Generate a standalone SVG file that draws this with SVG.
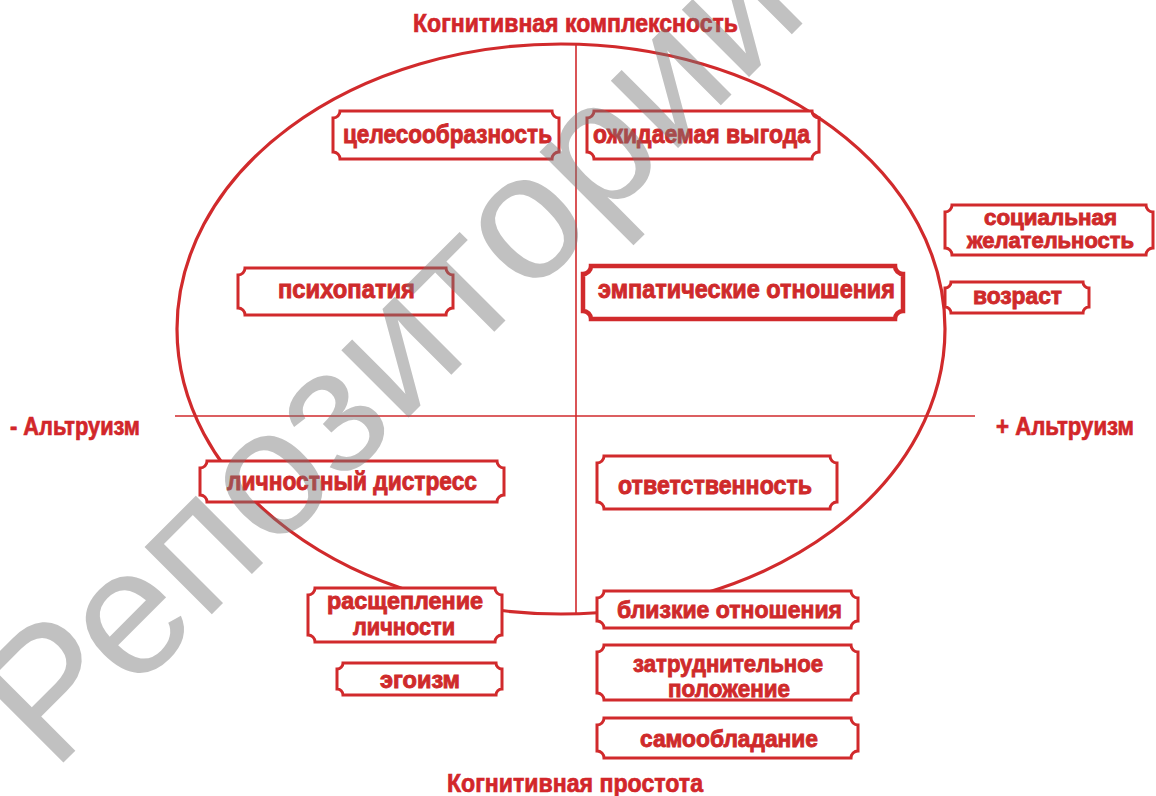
<svg xmlns="http://www.w3.org/2000/svg" width="1156" height="796" viewBox="0 0 1156 796">
<style>
.frame{fill:#fff;stroke:#d12a2c;stroke-width:3}
.thick{stroke-width:4.5}
.lbl{font-family:"Liberation Sans",Arial,sans-serif;font-weight:bold;font-size:26px;fill:#cf2a2b;stroke:#cf2a2b;stroke-width:0.9;text-anchor:middle}
.sm{font-size:24px}
.xs{font-size:22px}
.title{font-family:"Liberation Sans",Arial,sans-serif;font-weight:bold;font-size:25px;fill:#d2262a;stroke:#d2262a;stroke-width:0.7;text-anchor:middle}
.axis{stroke:#d12a2c;fill:none}
.wm{font-family:"Liberation Sans",Arial,sans-serif;font-size:180px;fill:#777;opacity:0.45}
</style>
<rect width="1156" height="796" fill="#fff"/>
<g id="connectors">
<ellipse class="axis" cx="561" cy="329" rx="384" ry="285" stroke-width="3.2"/>
<line class="axis" x1="576" y1="45" x2="576" y2="613" stroke-width="1.6"/>
<line class="axis" x1="175" y1="416" x2="975" y2="416" stroke-width="1.6"/>
</g>
<g id="titles">
<text class="title" x="575.5" y="32" textLength="325" lengthAdjust="spacingAndGlyphs">Когнитивная комплексность</text>
<text class="title" x="575" y="792" textLength="256" lengthAdjust="spacingAndGlyphs">Когнитивная простота</text>
<text class="title" x="75" y="435" textLength="130" lengthAdjust="spacingAndGlyphs">- Альтруизм</text>
<text class="title" x="1065" y="435" textLength="138" lengthAdjust="spacingAndGlyphs">+ Альтруизм</text>
</g>
<g id="n1"><path class="frame" d="M340,111 H552 A7,7 0 0 0 559,118 V152 A7,7 0 0 0 552,159 H340 A7,7 0 0 0 333,152 V118 A7,7 0 0 0 340,111 Z"/><text class="lbl" x="447.5" y="143" textLength="209" lengthAdjust="spacingAndGlyphs">целесообразность</text></g>
<g id="n2"><path class="frame" d="M594,111 H812 A7,7 0 0 0 819,118 V152 A7,7 0 0 0 812,159 H594 A7,7 0 0 0 587,152 V118 A7,7 0 0 0 594,111 Z"/><text class="lbl" x="701.5" y="143" textLength="217" lengthAdjust="spacingAndGlyphs">ожидаемая выгода</text></g>
<g id="n3"><path class="frame" d="M952,205 H1146 A7,7 0 0 0 1153,212 V248 A7,7 0 0 0 1146,255 H952 A7,7 0 0 0 945,248 V212 A7,7 0 0 0 952,205 Z"/><text class="lbl xs" x="1050.5" y="225" textLength="133" lengthAdjust="spacingAndGlyphs">социальная</text><text class="lbl xs" x="1050.5" y="248" textLength="167" lengthAdjust="spacingAndGlyphs">желательность</text></g>
<g id="n4"><path class="frame" d="M951,282 H1083 A6,6 0 0 0 1089,288 V307 A6,6 0 0 0 1083,313 H951 A6,6 0 0 0 945,307 V288 A6,6 0 0 0 951,282 Z"/><text class="lbl sm" x="1017.5" y="304" textLength="89" lengthAdjust="spacingAndGlyphs">возраст</text></g>
<g id="n5"><path class="frame" d="M245,268 H446 A7,7 0 0 0 453,275 V308 A7,7 0 0 0 446,315 H245 A7,7 0 0 0 238,308 V275 A7,7 0 0 0 245,268 Z"/><text class="lbl" x="346.5" y="298" textLength="137" lengthAdjust="spacingAndGlyphs">психопатия</text></g>
<g id="n6"><path class="frame thick" d="M591,266 H895 A8,8 0 0 0 903,274 V311 A8,8 0 0 0 895,319 H591 A8,8 0 0 0 583,311 V274 A8,8 0 0 0 591,266 Z"/><text class="lbl" x="746.5" y="298" textLength="297" lengthAdjust="spacingAndGlyphs">эмпатические отношения</text></g>
<g id="n7"><path class="frame" d="M207,461 H497 A7,7 0 0 0 504,468 V495 A7,7 0 0 0 497,502 H207 A7,7 0 0 0 200,495 V468 A7,7 0 0 0 207,461 Z"/><text class="lbl" x="352" y="490" textLength="250" lengthAdjust="spacingAndGlyphs">личностный дистресс</text></g>
<g id="n8"><path class="frame" d="M604,456 H830 A7,7 0 0 0 837,463 V502 A7,7 0 0 0 830,509 H604 A7,7 0 0 0 597,502 V463 A7,7 0 0 0 604,456 Z"/><text class="lbl" x="715" y="494" textLength="194" lengthAdjust="spacingAndGlyphs">ответственность</text></g>
<g id="n9"><path class="frame" d="M315,588 H495 A7,7 0 0 0 502,595 V635 A7,7 0 0 0 495,642 H315 A7,7 0 0 0 308,635 V595 A7,7 0 0 0 315,588 Z"/><text class="lbl sm" x="405" y="609" textLength="156" lengthAdjust="spacingAndGlyphs">расщепление</text><text class="lbl sm" x="404" y="635" textLength="102" lengthAdjust="spacingAndGlyphs">личности</text></g>
<g id="n10"><path class="frame" d="M343,663 H496 A6,6 0 0 0 502,669 V689 A6,6 0 0 0 496,695 H343 A6,6 0 0 0 337,689 V669 A6,6 0 0 0 343,663 Z"/><text class="lbl sm" x="420" y="688" textLength="80" lengthAdjust="spacingAndGlyphs">эгоизм</text></g>
<g id="n11"><path class="frame" d="M604,591 H851 A7,7 0 0 0 858,598 V621 A7,7 0 0 0 851,628 H604 A7,7 0 0 0 597,621 V598 A7,7 0 0 0 604,591 Z"/><text class="lbl sm" x="729.5" y="618" textLength="225" lengthAdjust="spacingAndGlyphs">близкие отношения</text></g>
<g id="n12"><path class="frame" d="M604,645 H851 A7,7 0 0 0 858,652 V693 A7,7 0 0 0 851,700 H604 A7,7 0 0 0 597,693 V652 A7,7 0 0 0 604,645 Z"/><text class="lbl sm" x="728" y="672" textLength="190" lengthAdjust="spacingAndGlyphs">затруднительное</text><text class="lbl sm" x="729" y="697" textLength="122" lengthAdjust="spacingAndGlyphs">положение</text></g>
<g id="n13"><path class="frame" d="M604,718 H851 A7,7 0 0 0 858,725 V751 A7,7 0 0 0 851,758 H604 A7,7 0 0 0 597,751 V725 A7,7 0 0 0 604,718 Z"/><text class="lbl sm" x="729" y="747" textLength="178" lengthAdjust="spacingAndGlyphs">самообладание</text></g>
<text class="wm" transform="translate(53,773) rotate(-45)">Репозиторий</text>
</svg>
